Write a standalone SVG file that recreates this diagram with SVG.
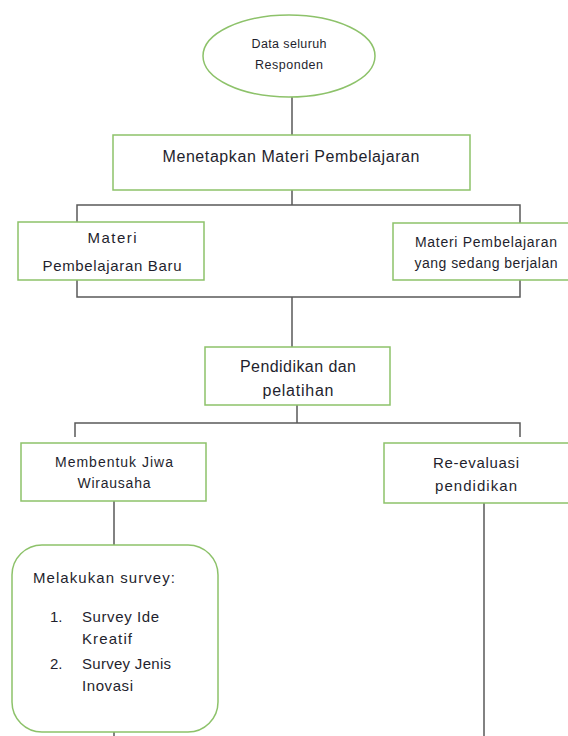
<svg xmlns="http://www.w3.org/2000/svg" width="568" height="736" viewBox="0 0 568 736">
<style>
.node{fill:#ffffff;stroke:#8dc26a;stroke-width:1.5}
.conn{fill:none;stroke:#595959;stroke-width:1.5}
text{font-family:"Liberation Sans",Arial,sans-serif;fill:#1f1f2e}
.c{text-anchor:middle}
</style>
<rect width="568" height="736" fill="#ffffff"/>
<g id="connectors">
<line class="conn" x1="292" y1="97" x2="292" y2="135"/>
<line class="conn" x1="292" y1="190" x2="292" y2="205"/>
<rect class="conn" x="77" y="205" width="443" height="92"/>
<line class="conn" x1="292" y1="297" x2="292" y2="347"/>
<line class="conn" x1="297" y1="405" x2="297" y2="423"/>
<polyline class="conn" points="75,437 75,423 520,423 520,437"/>
<line class="conn" x1="114" y1="501" x2="114" y2="545"/>
<line class="conn" x1="114" y1="717" x2="114" y2="736"/>
<line class="conn" x1="484" y1="503" x2="484" y2="736"/>
</g>
<g id="data-responden">
<ellipse class="node" cx="289" cy="56" rx="86" ry="41"/>
<text class="c" x="289" y="48" font-size="12.5" textLength="75" lengthAdjust="spacing">Data seluruh</text>
<text class="c" x="289" y="68.5" font-size="12.5" textLength="68" lengthAdjust="spacing">Responden</text>
</g>
<g id="menetapkan">
<rect class="node" x="113" y="135" width="357" height="55"/>
<text class="c" x="291" y="161.5" font-size="16" textLength="257" lengthAdjust="spacing">Menetapkan Materi Pembelajaran</text>
</g>
<g id="materi-baru">
<rect class="node" x="18" y="222" width="186" height="58"/>
<text class="c" x="112" y="242.5" font-size="15" textLength="49" lengthAdjust="spacing">Materi</text>
<text class="c" x="112" y="270.5" font-size="15" textLength="139" lengthAdjust="spacing">Pembelajaran Baru</text>
</g>
<g id="materi-berjalan">
<rect class="node" x="393" y="223" width="178" height="57"/>
<text class="c" x="486" y="247" font-size="14" textLength="142" lengthAdjust="spacing">Materi Pembelajaran</text>
<text class="c" x="486" y="268" font-size="14" textLength="143" lengthAdjust="spacing">yang sedang berjalan</text>
</g>
<g id="pendidikan">
<rect class="node" x="205" y="347" width="185" height="58"/>
<text class="c" x="298" y="371.5" font-size="16" textLength="116" lengthAdjust="spacing">Pendidikan dan</text>
<text class="c" x="298" y="395.5" font-size="16" textLength="71" lengthAdjust="spacing">pelatihan</text>
</g>
<g id="jiwa-wirausaha">
<rect class="node" x="21" y="443" width="185" height="58"/>
<text class="c" x="114" y="467" font-size="14" textLength="118" lengthAdjust="spacing">Membentuk Jiwa</text>
<text class="c" x="114" y="488" font-size="14" textLength="73" lengthAdjust="spacing">Wirausaha</text>
</g>
<g id="re-evaluasi">
<rect class="node" x="384" y="443" width="186" height="60"/>
<text class="c" x="476" y="467.5" font-size="15" textLength="86" lengthAdjust="spacing">Re-evaluasi</text>
<text class="c" x="476" y="490.5" font-size="15" textLength="82" lengthAdjust="spacing">pendidikan</text>
</g>
<g id="survey">
<rect class="node" x="12" y="545" width="206" height="187" rx="30" ry="30"/>
<text x="33" y="582.5" font-size="15" textLength="142" lengthAdjust="spacing">Melakukan survey:</text>
<text x="50" y="621.5" font-size="15">1.</text>
<text x="82" y="621.5" font-size="15" textLength="77" lengthAdjust="spacing">Survey Ide</text>
<text x="82" y="643.5" font-size="15" textLength="50" lengthAdjust="spacing">Kreatif</text>
<text x="50" y="668.5" font-size="15">2.</text>
<text x="82" y="668.5" font-size="15" textLength="89" lengthAdjust="spacing">Survey Jenis</text>
<text x="82" y="690.5" font-size="15" textLength="51" lengthAdjust="spacing">Inovasi</text>
</g>
</svg>
